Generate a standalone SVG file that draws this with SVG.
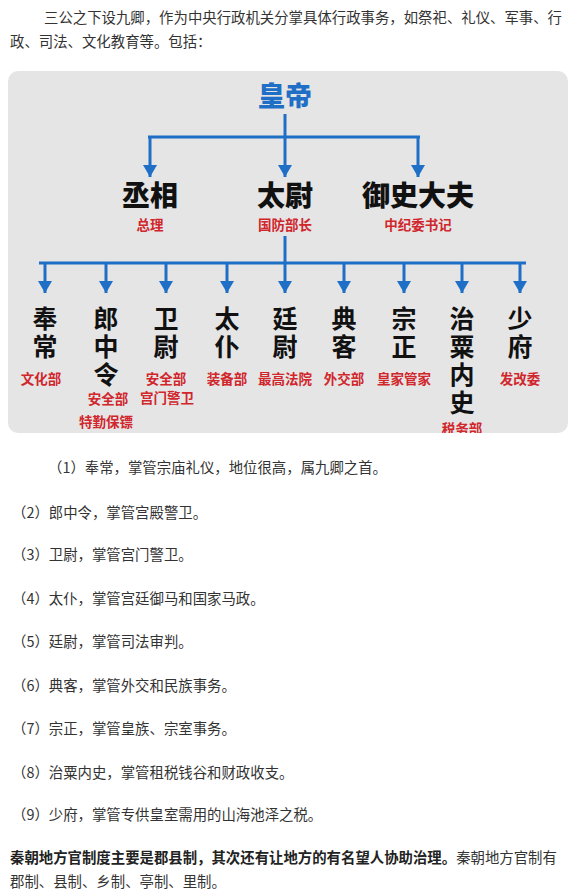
<svg xmlns="http://www.w3.org/2000/svg" width="572" height="896" viewBox="0 0 572 896">
  <defs>
    <!-- downward arrowhead, tip at the end of each drop line -->
    <marker id="arrow" viewBox="0 0 14 12" refX="7" refY="12" markerWidth="14" markerHeight="12" markerUnits="userSpaceOnUse" orient="0">
      <path d="M0,0 L14,0 L7,12 Z" fill="#1f6fc6"/>
    </marker>
    <clipPath id="panel-clip">
      <rect x="8" y="71" width="560" height="362" rx="10"/>
    </clipPath>
    <style>
      .body { font-family: "Noto Sans CJK SC", "Noto Sans", sans-serif; font-size: 14.4px; fill: #333; }
      .bold { font-weight: 700; fill: #222; }
      .emperor { font-family: "Noto Sans CJK SC", sans-serif; font-size: 27px; font-weight: 900; fill: #1f6fc6; text-anchor: middle; }
      .gong { font-family: "Noto Sans CJK SC", sans-serif; font-size: 28px; font-weight: 900; fill: #111; text-anchor: middle; }
      /* minister titles run top to bottom, one glyph per 28px */
      .qing { font-family: "Noto Sans CJK SC", sans-serif; font-size: 25px; font-weight: 700; fill: #111; writing-mode: vertical-rl; text-orientation: upright; letter-spacing: 3px; }
      .role { font-family: "Noto Sans CJK SC", sans-serif; font-size: 13.5px; font-weight: 700; fill: #d0262c; text-anchor: middle; }
      .wire { stroke: #1f6fc6; stroke-width: 3; fill: none; }
      .drop { stroke: #1f6fc6; stroke-width: 3; fill: none; marker-end: url(#arrow); }
    </style>
  </defs>

  <!-- intro paragraph -->
  <text class="body" x="44" y="23" textLength="518">三公之下设九卿，作为中央行政机关分掌具体行政事务，如祭祀、礼仪、军事、行</text>
  <text class="body" x="10" y="47">政、司法、文化教育等。包括：</text>

  <!-- chart panel -->
  <rect x="8" y="71" width="560" height="362" rx="10" fill="#e5e5e5"/>

  <!-- connectors -->
  <g id="connectors">
    <line class="wire" x1="285" y1="114" x2="285" y2="137"/>
    <line class="wire" x1="148" y1="137" x2="420" y2="137"/>
    <line class="drop" x1="150" y1="137" x2="150" y2="177"/>
    <line class="drop" x1="285" y1="137" x2="285" y2="177"/>
    <line class="drop" x1="418" y1="137" x2="418" y2="177"/>

    <line class="wire" x1="285" y1="236" x2="285" y2="263"/>
    <line class="wire" x1="39" y1="263" x2="526" y2="263"/>
    <line class="drop" x1="45" y1="263" x2="45" y2="293"/>
    <line class="drop" x1="106" y1="263" x2="106" y2="293"/>
    <line class="drop" x1="166" y1="263" x2="166" y2="293"/>
    <line class="drop" x1="227" y1="263" x2="227" y2="293"/>
    <line class="drop" x1="285" y1="263" x2="285" y2="293"/>
    <line class="drop" x1="344" y1="263" x2="344" y2="293"/>
    <line class="drop" x1="404" y1="263" x2="404" y2="293"/>
    <line class="drop" x1="462" y1="263" x2="462" y2="293"/>
    <line class="drop" x1="520" y1="263" x2="520" y2="293"/>
  </g>

  <!-- top -->
  <g id="huangdi">
    <text class="emperor" x="285" y="106">皇帝</text>
  </g>

  <!-- three lords -->
  <g id="chengxiang">
    <text class="gong" x="150" y="206">丞相</text>
    <text class="role" x="150" y="230">总理</text>
  </g>
  <g id="taiwei">
    <text class="gong" x="285" y="206">太尉</text>
    <text class="role" x="285" y="230">国防部长</text>
  </g>
  <g id="yushidafu">
    <text class="gong" x="418" y="206">御史大夫</text>
    <text class="role" x="418" y="230">中纪委书记</text>
  </g>

  <!-- nine ministers -->
  <g id="fengchang">
    <text class="qing" x="45" y="306">奉常</text>
    <text class="role" x="41" y="384">文化部</text>
  </g>
  <g id="langzhongling">
    <text class="qing" x="106" y="306">郎中令</text>
    <text class="role" x="108" y="404">安全部</text>
    <text class="role" x="106" y="427">特勤保镖</text>
  </g>
  <g id="weiwei">
    <text class="qing" x="166" y="306">卫尉</text>
    <text class="role" x="166" y="384">安全部</text>
    <text class="role" x="167" y="403">宫门警卫</text>
  </g>
  <g id="taipu">
    <text class="qing" x="227" y="306">太仆</text>
    <text class="role" x="227" y="384">装备部</text>
  </g>
  <g id="tingwei">
    <text class="qing" x="285" y="306">廷尉</text>
    <text class="role" x="285" y="384">最高法院</text>
  </g>
  <g id="dianke">
    <text class="qing" x="344" y="306">典客</text>
    <text class="role" x="344" y="384">外交部</text>
  </g>
  <g id="zongzheng">
    <text class="qing" x="404" y="306">宗正</text>
    <text class="role" x="404" y="384">皇家管家</text>
  </g>
  <g id="zhisuneishi">
    <text class="qing" x="462" y="306">治粟内史</text>
    <text class="role" x="462" y="434" clip-path="url(#panel-clip)">税务部</text>
  </g>
  <g id="shaofu">
    <text class="qing" x="520" y="306">少府</text>
    <text class="role" x="520" y="384">发改委</text>
  </g>

  <!-- list of the nine ministers -->
  <text class="body" x="48" y="473">（1）奉常，掌管宗庙礼仪，地位很高，属九卿之首。</text>
  <text class="body" x="12" y="518">（2）郎中令，掌管宫殿警卫。</text>
  <text class="body" x="12" y="560">（3）卫尉，掌管宫门警卫。</text>
  <text class="body" x="12" y="604">（4）太仆，掌管宫廷御马和国家马政。</text>
  <text class="body" x="12" y="647">（5）廷尉，掌管司法审判。</text>
  <text class="body" x="12" y="691">（6）典客，掌管外交和民族事务。</text>
  <text class="body" x="12" y="734">（7）宗正，掌管皇族、宗室事务。</text>
  <text class="body" x="12" y="778">（8）治粟内史，掌管租税钱谷和财政收支。</text>
  <text class="body" x="12" y="820">（9）少府，掌管专供皇室需用的山海池泽之税。</text>

  <!-- closing paragraph -->
  <text class="body" x="10" y="863"><tspan class="bold">秦朝地方官制度主要是郡县制，其次还有让地方的有名望人协助治理。</tspan>秦朝地方官制有</text>
  <text class="body" x="10" y="887">郡制、县制、乡制、亭制、里制。</text>
</svg>
